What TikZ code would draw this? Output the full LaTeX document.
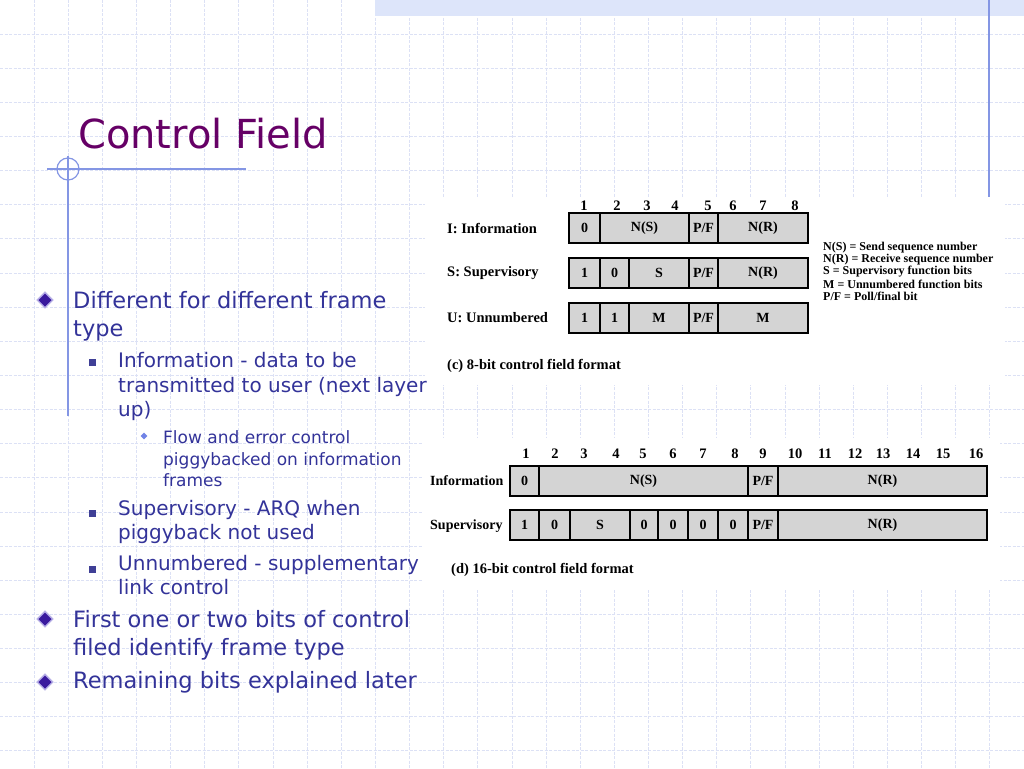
\documentclass[tikz,border=0pt]{standalone}
\usepackage{fontspec}
\setmainfont{Liberation Serif}
\newfontfamily\slidefont{DejaVu Sans}
\usetikzlibrary{shapes.geometric}
\definecolor{gridc}{HTML}{DCE1F5}
\definecolor{bandc}{HTML}{DDE5FA}
\definecolor{linec}{HTML}{8496E4}
\definecolor{titlec}{HTML}{660066}
\definecolor{textc}{HTML}{333399}
\definecolor{cellgray}{HTML}{D4D4D4}
\definecolor{bulc}{HTML}{3A1A9E}
\definecolor{bulrim}{HTML}{B4ACE6}
\definecolor{sqc}{HTML}{3F3F96}
\definecolor{smallc}{HTML}{7183E6}
\newcommand\fcell[5]{\node[cell, minimum width={#3pt-#2pt}] (#1) at ({(#2+#3)/2},#4) {#5};}
\begin{document}
\begin{tikzpicture}[x=1pt,y=-1pt,
  gridline/.style={draw=gridc, line width=1pt, dash pattern=on 3pt off 1.5pt},
  cell/.style={draw=black, line width=2.8pt, fill=cellgray, inner sep=0pt, outer sep=0pt,
    minimum height=30pt, font=\bfseries\fontsize{14}{15}\selectfont},
  bitnum/.style={inner sep=0pt, font=\bfseries\fontsize{14.5}{15}\selectfont},
  rowlab/.style={inner sep=0pt, anchor=west, font=\bfseries\fontsize{14.5}{16}\selectfont},
  legend/.style={inner sep=0pt, anchor=west, font=\bfseries\fontsize{12}{12}\selectfont},
  title/.style={inner sep=0pt, anchor=base west, text=titlec, font=\slidefont\fontsize{40}{44}\selectfont},
  lone/.style={inner sep=0pt, anchor=base west, text=textc, font=\slidefont\fontsize{22.5}{28}\selectfont},
  ltwo/.style={inner sep=0pt, anchor=base west, text=textc, font=\slidefont\fontsize{20}{24}\selectfont},
  lthree/.style={inner sep=0pt, anchor=base west, text=textc, font=\slidefont\fontsize{17}{21}\selectfont},
  sqbul/.style={fill=sqc, draw=none, minimum size=7pt, inner sep=0pt},
]
% background
\fill[white] (0,0) rectangle (1024,768);
\useasboundingbox (0,0) rectangle (1024,768);
% grid
\foreach \k in {1,...,29} { \draw[gridline] ({34.133*\k},0) -- ({34.133*\k},768); }
\foreach \k in {1,...,22} { \draw[gridline] (0,{34.133*\k}) -- (1024,{34.133*\k}); }
% top band
\fill[bandc] (375,0) rectangle (1024,16);
% picture backgrounds
\fill[white] (425,197) rectangle (1005,385);
\fill[white] (422,438) rectangle (1000,590);
% decorative lines
\draw[linec, line width=1.3pt] (989,0) -- (989,197);
\draw[linec, line width=1.2pt] (47,169) -- (246,169);
\draw[linec, line width=1.3pt] (68,156) -- (68,416);
\draw[linec, line width=1.2pt] (68,169) circle (11);
% title
\node[title] (title) at (78,148) {Control Field};
% bullets level 1
\foreach \n/\y in {b1/300,b2/619,b3/682} {
  \node[draw=bulrim, fill=bulrim, diamond, aspect=1, minimum size=17pt, inner sep=0pt] (\n) at (45,\y) {};
  \fill[bulc] (45,\y-6.5) -- (51.5,\y) -- (45,\y+6.5) -- (38.5,\y) -- cycle;
}
% square bullets level 2
\node[sqbul] (s1) at (92,362) {};
\node[sqbul] (s2) at (92,513) {};
\node[sqbul] (s3) at (92,569) {};
% small diamond level 3
\node[fill=smallc, diamond, aspect=1, minimum size=7pt, inner sep=0pt] (d1) at (144,436) {};
% body text
\node[lone] (t1a) at (73,308) {Different for different frame};
\node[lone] (t1b) at (73,336) {type};
\node[ltwo] (t2a) at (118,367) {Information - data to be};
\node[ltwo] (t2b) at (118,392) {transmitted to user (next layer};
\node[ltwo] (t2c) at (118,416) {up)};
\node[lthree] (t3a) at (163,443) {Flow and error control};
\node[lthree] (t3b) at (163,465) {piggybacked on information};
\node[lthree] (t3c) at (163,486) {frames};
\node[ltwo] (t4a) at (118,515) {Supervisory - ARQ when};
\node[ltwo] (t4b) at (118,539) {piggyback not used};
\node[ltwo] (t5a) at (118,570) {Unnumbered - supplementary};
\node[ltwo] (t5b) at (118,594) {link control};
\node[lone] (t6a) at (73,627) {First one or two bits of control};
\node[lone] (t6b) at (73,655) {filed identify frame type};
\node[lone] (t7a) at (73,688) {Remaining bits explained later};
% ===== figure (c) =====
\foreach \i/\x in {1/584,2/617,3/647,4/675,5/708,6/733,7/763,8/795} {
  \node[bitnum] (c\i) at (\x,206) {\i};
}
\node[rowlab] (lI) at (447,228) {I: Information};
\node[rowlab] (lS) at (447,273) {S: Supervisory};
\node[rowlab] (lU) at (447,318) {U: Unnumbered};
\fcell{ia}{569}{600}{228}{0}
\fcell{ib}{600}{689}{228}{N(S)}
\fcell{ic}{689}{718}{228}{P/F}
\fcell{id}{718}{808}{228}{N(R)}
\fcell{sa}{569}{600}{273}{1}
\fcell{sb}{600}{629}{273}{0}
\fcell{sc}{629}{689}{273}{S}
\fcell{sd}{689}{718}{273}{P/F}
\fcell{se}{718}{808}{273}{N(R)}
\fcell{ua}{569}{600}{318}{1}
\fcell{ub}{600}{629}{318}{1}
\fcell{uc}{629}{689}{318}{M}
\fcell{ud}{689}{718}{318}{P/F}
\fcell{ue}{718}{808}{318}{M}
\node[legend] (g1) at (823,248) {N(S) = Send sequence number};
\node[legend] (g2) at (823,260) {N(R) = Receive sequence number};
\node[legend] (g3) at (823,272) {S = Supervisory function bits};
\node[legend] (g4) at (823,284) {M = Unnumbered function bits};
\node[legend] (g5) at (823,296) {P/F = Poll/final bit};
\node[rowlab] (capc) at (447,366) {(c) 8-bit control field format};
% ===== figure (d) =====
\foreach \i/\x in {1/526,2/555,3/584,4/616,5/643,6/673,7/703,8/735,9/763,10/795,11/825,12/855,13/883,14/913,15/943,16/976} {
  \node[bitnum] (e\i) at (\x,454) {\i};
}
\node[rowlab, font=\bfseries\fontsize{14}{15}\selectfont] (lInf) at (430,481) {Information};
\node[rowlab, font=\bfseries\fontsize{14}{15}\selectfont] (lSup) at (430,526) {Supervisory};
\fcell{ja}{510}{539}{481}{0}
\fcell{jb}{539}{748}{481}{N(S)}
\fcell{jc}{748}{778}{481}{P/F}
\fcell{jd}{778}{987}{481}{N(R)}
\fcell{ka}{510}{539}{525}{1}
\fcell{kb}{539}{570}{525}{0}
\fcell{kc}{570}{630}{525}{S}
\fcell{kd}{630}{658}{525}{0}
\fcell{ke}{658}{688}{525}{0}
\fcell{kf}{688}{718}{525}{0}
\fcell{kg}{718}{748}{525}{0}
\fcell{kh}{748}{778}{525}{P/F}
\fcell{ki}{778}{987}{525}{N(R)}
\node[rowlab] (capd) at (451,570) {(d) 16-bit control field format};
\end{tikzpicture}
\end{document}
